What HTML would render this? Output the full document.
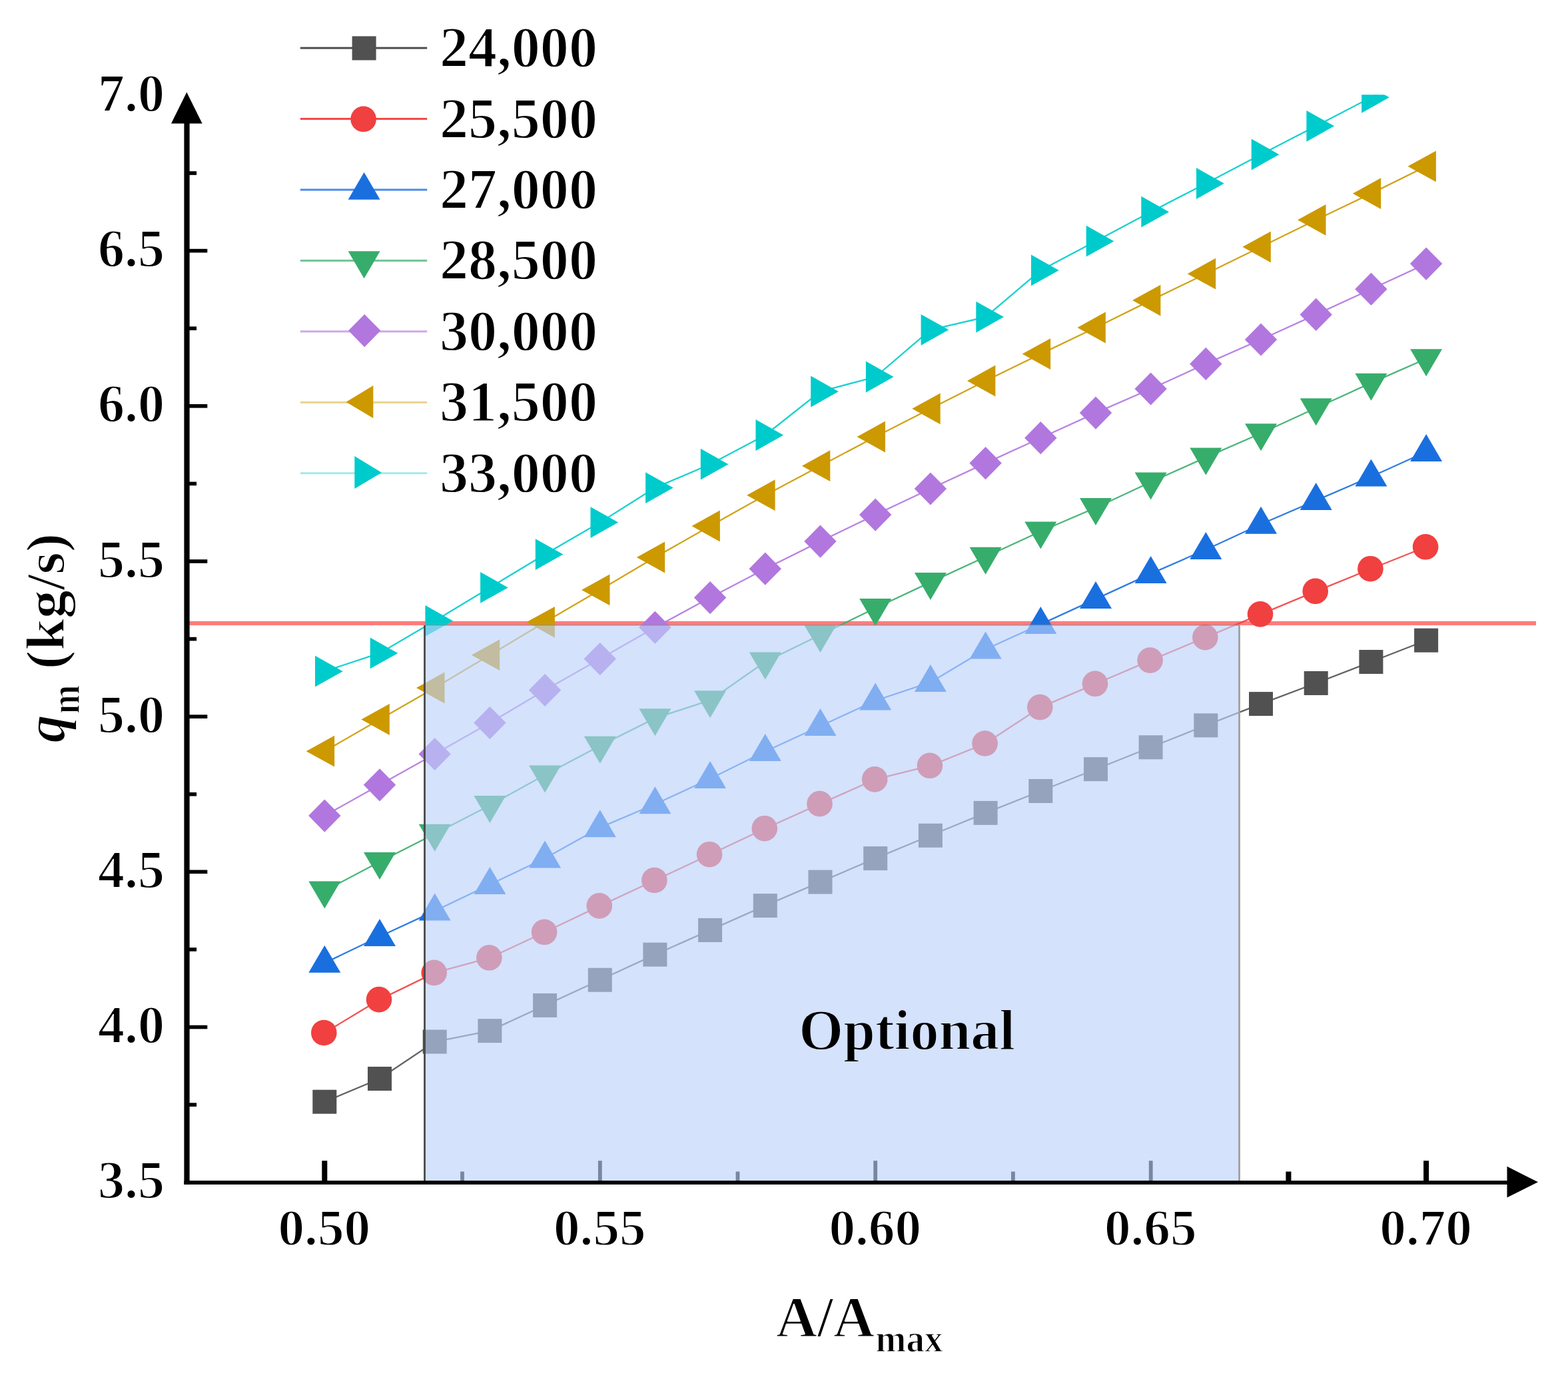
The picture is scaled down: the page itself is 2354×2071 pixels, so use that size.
<!DOCTYPE html>
<html lang="en"><head><meta charset="utf-8"><title>q_m versus A/A_max</title>
<style>html,body{margin:0;padding:0;background:#fff}body{width:2354px;height:2071px;overflow:hidden}svg{display:block}#chart{width:2354px;height:2071px}text{font-family:"Liberation Serif",serif;font-weight:bold;fill:#000;stroke:#fff;stroke-width:1.8px;stroke-linejoin:round}</style>
</head><body><div id="chart">
<svg width="2354" height="2071" viewBox="0 0 2354 2071">
<rect width="2354" height="2071" fill="#fff"/>
<defs><clipPath id="plot"><rect x="276" y="142.3" width="2070" height="1640"/></clipPath></defs>
<g fill="#000">
<rect x="483.3" y="1743.2" width="8.0" height="32"/>
<rect x="897.9" y="1743.2" width="5.8" height="32"/>
<rect x="1311.3" y="1743.2" width="5.8" height="32"/>
<rect x="1724.8" y="1743.2" width="5.8" height="32"/>
<rect x="2137.1" y="1743.2" width="8.0" height="32"/>
<rect x="691.1" y="1759.5" width="5.8" height="16"/>
<rect x="1104.6" y="1759.5" width="5.8" height="16"/>
<rect x="1518.0" y="1759.5" width="5.8" height="16"/>
<rect x="1930.4" y="1759.5" width="8.0" height="16"/>
</g>
<rect x="284" y="932.9" width="2022" height="6.2" fill="#FF7C7E"/>
<g clip-path="url(#plot)">
<polyline points="487.3,1654.7 570.0,1620.0 652.7,1564.5 735.4,1548.1 818.1,1509.9 900.8,1471.7 983.4,1433.6 1066.1,1396.9 1148.8,1360.1 1231.5,1324.6 1314.2,1289.1 1396.9,1254.8 1479.6,1220.9 1562.3,1188.0 1645.0,1155.2 1727.6,1122.3 1810.3,1089.4 1893.0,1057.1 1975.7,1026.0 2058.4,994.0 2141.1,961.7" fill="none" stroke="#515151" stroke-width="2.3" stroke-opacity="0.9"/>
<rect x="469.3" y="1636.7" width="36.0" height="36.0" fill="#515151"/>
<rect x="552.0" y="1602.0" width="36.0" height="36.0" fill="#515151"/>
<rect x="634.7" y="1546.5" width="36.0" height="36.0" fill="#515151"/>
<rect x="717.4" y="1530.1" width="36.0" height="36.0" fill="#515151"/>
<rect x="800.1" y="1491.9" width="36.0" height="36.0" fill="#515151"/>
<rect x="882.8" y="1453.7" width="36.0" height="36.0" fill="#515151"/>
<rect x="965.4" y="1415.6" width="36.0" height="36.0" fill="#515151"/>
<rect x="1048.1" y="1378.9" width="36.0" height="36.0" fill="#515151"/>
<rect x="1130.8" y="1342.1" width="36.0" height="36.0" fill="#515151"/>
<rect x="1213.5" y="1306.6" width="36.0" height="36.0" fill="#515151"/>
<rect x="1296.2" y="1271.1" width="36.0" height="36.0" fill="#515151"/>
<rect x="1378.9" y="1236.8" width="36.0" height="36.0" fill="#515151"/>
<rect x="1461.6" y="1202.9" width="36.0" height="36.0" fill="#515151"/>
<rect x="1544.3" y="1170.0" width="36.0" height="36.0" fill="#515151"/>
<rect x="1627.0" y="1137.2" width="36.0" height="36.0" fill="#515151"/>
<rect x="1709.6" y="1104.3" width="36.0" height="36.0" fill="#515151"/>
<rect x="1792.3" y="1071.4" width="36.0" height="36.0" fill="#515151"/>
<rect x="1875.0" y="1039.1" width="36.0" height="36.0" fill="#515151"/>
<rect x="1957.7" y="1008.0" width="36.0" height="36.0" fill="#515151"/>
<rect x="2040.4" y="976.0" width="36.0" height="36.0" fill="#515151"/>
<rect x="2123.1" y="943.7" width="36.0" height="36.0" fill="#515151"/>
<polyline points="487.3,1551.0 570.0,1501.1 652.7,1460.9 735.4,1438.3 818.1,1399.8 900.8,1360.4 983.4,1322.0 1066.1,1283.2 1148.8,1244.2 1231.5,1207.1 1314.2,1170.4 1396.9,1149.8 1479.6,1116.5 1562.3,1062.1 1645.0,1026.9 1727.6,991.6 1810.3,957.1 1893.0,922.4 1975.7,887.9 2058.4,854.2 2141.1,821.3" fill="none" stroke="#F14040" stroke-width="2.3" stroke-opacity="0.9"/>
<circle cx="486.3" cy="1551.0" r="19.3" fill="#F14040"/>
<circle cx="569.0" cy="1501.1" r="19.3" fill="#F14040"/>
<circle cx="651.7" cy="1460.9" r="19.3" fill="#F14040"/>
<circle cx="734.4" cy="1438.3" r="19.3" fill="#F14040"/>
<circle cx="817.1" cy="1399.8" r="19.3" fill="#F14040"/>
<circle cx="899.8" cy="1360.4" r="19.3" fill="#F14040"/>
<circle cx="982.4" cy="1322.0" r="19.3" fill="#F14040"/>
<circle cx="1065.1" cy="1283.2" r="19.3" fill="#F14040"/>
<circle cx="1147.8" cy="1244.2" r="19.3" fill="#F14040"/>
<circle cx="1230.5" cy="1207.1" r="19.3" fill="#F14040"/>
<circle cx="1313.2" cy="1170.4" r="19.3" fill="#F14040"/>
<circle cx="1395.9" cy="1149.8" r="19.3" fill="#F14040"/>
<circle cx="1478.6" cy="1116.5" r="19.3" fill="#F14040"/>
<circle cx="1561.3" cy="1062.1" r="19.3" fill="#F14040"/>
<circle cx="1644.0" cy="1026.9" r="19.3" fill="#F14040"/>
<circle cx="1726.6" cy="991.6" r="19.3" fill="#F14040"/>
<circle cx="1809.3" cy="957.1" r="19.3" fill="#F14040"/>
<circle cx="1892.0" cy="922.4" r="19.3" fill="#F14040"/>
<circle cx="1974.7" cy="887.9" r="19.3" fill="#F14040"/>
<circle cx="2057.4" cy="854.2" r="19.3" fill="#F14040"/>
<circle cx="2140.1" cy="821.3" r="19.3" fill="#F14040"/>
<polyline points="487.3,1446.3 570.0,1406.5 652.7,1368.1 735.4,1328.5 818.1,1289.0 900.8,1242.9 983.4,1207.8 1066.1,1169.5 1148.8,1128.5 1231.5,1090.5 1314.2,1052.2 1396.9,1024.7 1479.6,975.2 1562.3,937.6 1645.0,899.6 1727.6,861.6 1810.3,825.5 1893.0,787.3 1975.7,751.6 2058.4,716.0 2141.1,678.5" fill="none" stroke="#1A6FDF" stroke-width="2.3" stroke-opacity="0.9"/>
<polygon points="487.3,1419.7 463.3,1460.7 511.3,1460.7" fill="#1A6FDF"/>
<polygon points="570.0,1379.9 546.0,1420.9 594.0,1420.9" fill="#1A6FDF"/>
<polygon points="652.7,1341.5 628.7,1382.5 676.7,1382.5" fill="#1A6FDF"/>
<polygon points="735.4,1301.9 711.4,1342.9 759.4,1342.9" fill="#1A6FDF"/>
<polygon points="818.1,1262.4 794.1,1303.4 842.1,1303.4" fill="#1A6FDF"/>
<polygon points="900.8,1216.3 876.8,1257.3 924.8,1257.3" fill="#1A6FDF"/>
<polygon points="983.4,1181.2 959.4,1222.2 1007.4,1222.2" fill="#1A6FDF"/>
<polygon points="1066.1,1142.9 1042.1,1183.9 1090.1,1183.9" fill="#1A6FDF"/>
<polygon points="1148.8,1101.9 1124.8,1142.9 1172.8,1142.9" fill="#1A6FDF"/>
<polygon points="1231.5,1063.9 1207.5,1104.9 1255.5,1104.9" fill="#1A6FDF"/>
<polygon points="1314.2,1025.6 1290.2,1066.6 1338.2,1066.6" fill="#1A6FDF"/>
<polygon points="1396.9,998.1 1372.9,1039.1 1420.9,1039.1" fill="#1A6FDF"/>
<polygon points="1479.6,948.6 1455.6,989.6 1503.6,989.6" fill="#1A6FDF"/>
<polygon points="1562.3,911.0 1538.3,952.0 1586.3,952.0" fill="#1A6FDF"/>
<polygon points="1645.0,873.0 1621.0,914.0 1669.0,914.0" fill="#1A6FDF"/>
<polygon points="1727.6,835.0 1703.6,876.0 1751.6,876.0" fill="#1A6FDF"/>
<polygon points="1810.3,798.9 1786.3,839.9 1834.3,839.9" fill="#1A6FDF"/>
<polygon points="1893.0,760.7 1869.0,801.7 1917.0,801.7" fill="#1A6FDF"/>
<polygon points="1975.7,725.0 1951.7,766.0 1999.7,766.0" fill="#1A6FDF"/>
<polygon points="2058.4,689.4 2034.4,730.4 2082.4,730.4" fill="#1A6FDF"/>
<polygon points="2141.1,651.9 2117.1,692.9 2165.1,692.9" fill="#1A6FDF"/>
<polyline points="487.3,1337.9 570.0,1294.3 652.7,1252.2 735.4,1209.4 818.1,1163.8 900.8,1120.1 983.4,1078.6 1066.1,1051.6 1148.8,994.0 1231.5,953.5 1314.2,913.3 1396.9,874.4 1479.6,836.2 1562.3,798.0 1645.0,762.5 1727.6,724.0 1810.3,686.9 1893.0,650.7 1975.7,612.7 2058.4,575.1 2141.1,538.7" fill="none" stroke="#37AD6B" stroke-width="2.3" stroke-opacity="0.9"/>
<polygon points="487.3,1364.5 463.3,1323.5 511.3,1323.5" fill="#37AD6B"/>
<polygon points="570.0,1320.9 546.0,1279.9 594.0,1279.9" fill="#37AD6B"/>
<polygon points="652.7,1278.8 628.7,1237.8 676.7,1237.8" fill="#37AD6B"/>
<polygon points="735.4,1236.0 711.4,1195.0 759.4,1195.0" fill="#37AD6B"/>
<polygon points="818.1,1190.4 794.1,1149.4 842.1,1149.4" fill="#37AD6B"/>
<polygon points="900.8,1146.7 876.8,1105.7 924.8,1105.7" fill="#37AD6B"/>
<polygon points="983.4,1105.2 959.4,1064.2 1007.4,1064.2" fill="#37AD6B"/>
<polygon points="1066.1,1078.2 1042.1,1037.2 1090.1,1037.2" fill="#37AD6B"/>
<polygon points="1148.8,1020.6 1124.8,979.6 1172.8,979.6" fill="#37AD6B"/>
<polygon points="1231.5,980.1 1207.5,939.1 1255.5,939.1" fill="#37AD6B"/>
<polygon points="1314.2,939.9 1290.2,898.9 1338.2,898.9" fill="#37AD6B"/>
<polygon points="1396.9,901.0 1372.9,860.0 1420.9,860.0" fill="#37AD6B"/>
<polygon points="1479.6,862.8 1455.6,821.8 1503.6,821.8" fill="#37AD6B"/>
<polygon points="1562.3,824.6 1538.3,783.6 1586.3,783.6" fill="#37AD6B"/>
<polygon points="1645.0,789.1 1621.0,748.1 1669.0,748.1" fill="#37AD6B"/>
<polygon points="1727.6,750.6 1703.6,709.6 1751.6,709.6" fill="#37AD6B"/>
<polygon points="1810.3,713.5 1786.3,672.5 1834.3,672.5" fill="#37AD6B"/>
<polygon points="1893.0,677.3 1869.0,636.3 1917.0,636.3" fill="#37AD6B"/>
<polygon points="1975.7,639.3 1951.7,598.3 1999.7,598.3" fill="#37AD6B"/>
<polygon points="2058.4,601.7 2034.4,560.7 2082.4,560.7" fill="#37AD6B"/>
<polygon points="2141.1,565.3 2117.1,524.3 2165.1,524.3" fill="#37AD6B"/>
<polyline points="487.3,1225.1 570.0,1178.8 652.7,1132.5 735.4,1085.6 818.1,1036.5 900.8,989.6 983.4,942.3 1066.1,897.6 1148.8,854.2 1231.5,813.1 1314.2,773.1 1396.9,734.0 1479.6,695.6 1562.3,657.7 1645.0,620.1 1727.6,584.0 1810.3,546.4 1893.0,510.0 1975.7,472.4 2058.4,434.2 2141.1,396.1" fill="none" stroke="#B177DE" stroke-width="2.3" stroke-opacity="0.9"/>
<polygon points="487.3,1200.5 511.5,1225.1 487.3,1249.7 463.1,1225.1" fill="#B177DE"/>
<polygon points="570.0,1154.2 594.2,1178.8 570.0,1203.4 545.8,1178.8" fill="#B177DE"/>
<polygon points="652.7,1107.9 676.9,1132.5 652.7,1157.1 628.5,1132.5" fill="#B177DE"/>
<polygon points="735.4,1061.0 759.6,1085.6 735.4,1110.2 711.2,1085.6" fill="#B177DE"/>
<polygon points="818.1,1011.9 842.3,1036.5 818.1,1061.1 793.9,1036.5" fill="#B177DE"/>
<polygon points="900.8,965.0 925.0,989.6 900.8,1014.2 876.5,989.6" fill="#B177DE"/>
<polygon points="983.4,917.7 1007.6,942.3 983.4,966.9 959.2,942.3" fill="#B177DE"/>
<polygon points="1066.1,873.0 1090.3,897.6 1066.1,922.2 1041.9,897.6" fill="#B177DE"/>
<polygon points="1148.8,829.6 1173.0,854.2 1148.8,878.8 1124.6,854.2" fill="#B177DE"/>
<polygon points="1231.5,788.5 1255.7,813.1 1231.5,837.7 1207.3,813.1" fill="#B177DE"/>
<polygon points="1314.2,748.5 1338.4,773.1 1314.2,797.7 1290.0,773.1" fill="#B177DE"/>
<polygon points="1396.9,709.4 1421.1,734.0 1396.9,758.6 1372.7,734.0" fill="#B177DE"/>
<polygon points="1479.6,671.0 1503.8,695.6 1479.6,720.2 1455.4,695.6" fill="#B177DE"/>
<polygon points="1562.3,633.1 1586.5,657.7 1562.3,682.3 1538.1,657.7" fill="#B177DE"/>
<polygon points="1645.0,595.5 1669.2,620.1 1645.0,644.7 1620.8,620.1" fill="#B177DE"/>
<polygon points="1727.6,559.4 1751.8,584.0 1727.6,608.6 1703.4,584.0" fill="#B177DE"/>
<polygon points="1810.3,521.8 1834.5,546.4 1810.3,571.0 1786.1,546.4" fill="#B177DE"/>
<polygon points="1893.0,485.4 1917.2,510.0 1893.0,534.6 1868.8,510.0" fill="#B177DE"/>
<polygon points="1975.7,447.8 1999.9,472.4 1975.7,497.0 1951.5,472.4" fill="#B177DE"/>
<polygon points="2058.4,409.6 2082.6,434.2 2058.4,458.8 2034.2,434.2" fill="#B177DE"/>
<polygon points="2141.1,371.5 2165.3,396.1 2141.1,420.7 2116.9,396.1" fill="#B177DE"/>
<polyline points="487.3,1128.2 570.0,1080.5 652.7,1033.0 735.4,983.7 818.1,934.3 900.8,885.9 983.4,837.0 1066.1,790.0 1148.8,743.7 1231.5,699.7 1314.2,656.0 1396.9,613.8 1479.6,572.0 1562.3,531.6 1645.0,492.0 1727.6,451.1 1810.3,411.2 1893.0,370.8 1975.7,330.3 2058.4,290.6 2141.1,249.8" fill="none" stroke="#CC9900" stroke-width="2.3" stroke-opacity="0.9"/>
<polygon points="459.7,1128.2 502.1,1104.8 502.1,1151.6" fill="#CC9900"/>
<polygon points="542.4,1080.5 584.8,1057.1 584.8,1103.9" fill="#CC9900"/>
<polygon points="625.1,1033.0 667.5,1009.6 667.5,1056.4" fill="#CC9900"/>
<polygon points="707.8,983.7 750.2,960.3 750.2,1007.1" fill="#CC9900"/>
<polygon points="790.5,934.3 832.9,910.9 832.9,957.7" fill="#CC9900"/>
<polygon points="873.1,885.9 915.5,862.5 915.5,909.3" fill="#CC9900"/>
<polygon points="955.8,837.0 998.2,813.6 998.2,860.4" fill="#CC9900"/>
<polygon points="1038.5,790.0 1080.9,766.6 1080.9,813.4" fill="#CC9900"/>
<polygon points="1121.2,743.7 1163.6,720.3 1163.6,767.1" fill="#CC9900"/>
<polygon points="1203.9,699.7 1246.3,676.3 1246.3,723.1" fill="#CC9900"/>
<polygon points="1286.6,656.0 1329.0,632.6 1329.0,679.4" fill="#CC9900"/>
<polygon points="1369.3,613.8 1411.7,590.4 1411.7,637.2" fill="#CC9900"/>
<polygon points="1452.0,572.0 1494.4,548.6 1494.4,595.4" fill="#CC9900"/>
<polygon points="1534.7,531.6 1577.1,508.2 1577.1,555.0" fill="#CC9900"/>
<polygon points="1617.4,492.0 1659.8,468.6 1659.8,515.4" fill="#CC9900"/>
<polygon points="1700.0,451.1 1742.4,427.7 1742.4,474.5" fill="#CC9900"/>
<polygon points="1782.7,411.2 1825.1,387.8 1825.1,434.6" fill="#CC9900"/>
<polygon points="1865.4,370.8 1907.8,347.4 1907.8,394.2" fill="#CC9900"/>
<polygon points="1948.1,330.3 1990.5,306.9 1990.5,353.7" fill="#CC9900"/>
<polygon points="2030.8,290.6 2073.2,267.2 2073.2,314.0" fill="#CC9900"/>
<polygon points="2113.5,249.8 2155.9,226.4 2155.9,273.2" fill="#CC9900"/>
<polyline points="487.3,1008.2 570.0,980.9 652.7,932.4 735.4,882.4 818.1,832.6 900.8,784.6 983.4,732.6 1066.1,697.2 1148.8,653.5 1231.5,588.0 1314.2,566.0 1396.9,495.3 1479.6,476.1 1562.3,405.9 1645.0,362.2 1727.6,318.2 1810.3,275.5 1893.0,232.0 1975.7,189.3 2058.4,146.3 2141.1,101.0" fill="none" stroke="#00CBCC" stroke-width="2.3" stroke-opacity="0.9"/>
<polygon points="514.7,1008.2 473.0,984.8 473.0,1031.6" fill="#00CBCC"/>
<polygon points="597.4,980.9 555.7,957.5 555.7,1004.3" fill="#00CBCC"/>
<polygon points="680.1,932.4 638.4,909.0 638.4,955.8" fill="#00CBCC"/>
<polygon points="762.8,882.4 721.1,859.0 721.1,905.8" fill="#00CBCC"/>
<polygon points="845.5,832.6 803.8,809.2 803.8,856.0" fill="#00CBCC"/>
<polygon points="928.1,784.6 886.5,761.2 886.5,808.0" fill="#00CBCC"/>
<polygon points="1010.8,732.6 969.1,709.2 969.1,756.0" fill="#00CBCC"/>
<polygon points="1093.5,697.2 1051.8,673.8 1051.8,720.6" fill="#00CBCC"/>
<polygon points="1176.2,653.5 1134.5,630.1 1134.5,676.9" fill="#00CBCC"/>
<polygon points="1258.9,588.0 1217.2,564.6 1217.2,611.4" fill="#00CBCC"/>
<polygon points="1341.6,566.0 1299.9,542.6 1299.9,589.4" fill="#00CBCC"/>
<polygon points="1424.3,495.3 1382.6,471.9 1382.6,518.7" fill="#00CBCC"/>
<polygon points="1507.0,476.1 1465.3,452.7 1465.3,499.5" fill="#00CBCC"/>
<polygon points="1589.7,405.9 1548.0,382.5 1548.0,429.3" fill="#00CBCC"/>
<polygon points="1672.4,362.2 1630.7,338.8 1630.7,385.6" fill="#00CBCC"/>
<polygon points="1755.0,318.2 1713.3,294.8 1713.3,341.6" fill="#00CBCC"/>
<polygon points="1837.7,275.5 1796.0,252.1 1796.0,298.9" fill="#00CBCC"/>
<polygon points="1920.4,232.0 1878.7,208.6 1878.7,255.4" fill="#00CBCC"/>
<polygon points="2003.1,189.3 1961.4,165.9 1961.4,212.7" fill="#00CBCC"/>
<polygon points="2085.8,146.3 2044.1,122.9 2044.1,169.7" fill="#00CBCC"/>
<polygon points="2168.5,101.0 2126.8,77.6 2126.8,124.4" fill="#00CBCC"/>
</g>
<rect x="637.5" y="939.0" width="1223.0" height="834.3" fill="#BBD1FA" fill-opacity="0.64"/>
<rect x="636.1" y="939.0" width="2.8" height="834.3" fill="#4a4a4a"/>
<rect x="1859.1" y="939.0" width="2.8" height="834.3" fill="#a0a0a0"/>
<rect x="637.5" y="938.0" width="1223.0" height="1.6" fill="#8c8c8c" fill-opacity="0.7"/>
<g fill="#000">
<rect x="276.4" y="160" width="8.2" height="1618.8"/>
<rect x="276.4" y="1773.1" width="1993.6" height="5.8"/>
<polygon points="280.3,138.5 257,185.6 303.6,185.6"/>
<polygon points="2309,1775.2 2262.5,1751.8 2262.5,1798.4"/>
<rect x="280" y="1539.7" width="31.3" height="5.6"/>
<rect x="280" y="1306.5" width="31.3" height="5.6"/>
<rect x="280" y="1073.4" width="31.3" height="5.6"/>
<rect x="280" y="840.2" width="31.3" height="5.6"/>
<rect x="280" y="607.0" width="31.3" height="5.6"/>
<rect x="280" y="373.8" width="31.3" height="5.6"/>
<rect x="280" y="1656.3" width="15.1" height="5.6"/>
<rect x="280" y="1423.1" width="15.1" height="5.6"/>
<rect x="280" y="1190.0" width="15.1" height="5.6"/>
<rect x="280" y="956.8" width="15.1" height="5.6"/>
<rect x="280" y="723.6" width="15.1" height="5.6"/>
<rect x="280" y="490.4" width="15.1" height="5.6"/>
<rect x="280" y="257.2" width="15.1" height="5.6"/>
</g>
<g font-size="80" text-anchor="end">
<text x="247.0" y="1799.3">3.5</text>
<text x="247.0" y="1566.1">4.0</text>
<text x="247.0" y="1332.9">4.5</text>
<text x="247.0" y="1099.8">5.0</text>
<text x="247.0" y="866.6">5.5</text>
<text x="247.0" y="633.4">6.0</text>
<text x="247.0" y="400.2">6.5</text>
<text x="247.0" y="167.0">7.0</text>
</g>
<g font-size="79.2" text-anchor="middle">
<text x="486.8" y="1870.0">0.50</text>
<text x="900.3" y="1870.0">0.55</text>
<text x="1313.7" y="1870.0">0.60</text>
<text x="1727.2" y="1870.0">0.65</text>
<text x="2140.6" y="1870.0">0.70</text>
</g>
<text x="1165" y="2007.4" font-size="86">A/A</text>
<text transform="translate(1314.6,2030.2) scale(0.975,1.06)" font-size="56.5" style="stroke-width:1.3px">max</text>
<text transform="translate(97.2,1115.5) rotate(-90)" font-size="84.5" font-style="italic">q</text>
<text transform="translate(118.6,1072.2) rotate(-90) scale(0.95,1.10)" font-size="55" style="stroke-width:1.3px">m</text>
<text transform="translate(96.2,1005.2) rotate(-90) scale(1.013,0.965)" font-size="84.5">(kg/s)</text>
<text x="1199.2" y="1575.8" font-size="86" style="stroke:#D4E2FC">Optional</text>
<rect x="450.8" y="70.6" width="190.4" height="3" fill="#4e4e4e"/>
<rect x="528.6" y="54.4" width="36.0" height="36.0" fill="#515151"/>
<text x="660.0" y="100.1" font-size="86.2">24,000</text>
<rect x="450.8" y="177.0" width="190.4" height="3" fill="#f44a4a"/>
<circle cx="545.6" cy="178.8" r="19.3" fill="#F14040"/>
<text x="660.0" y="206.5" font-size="86.2">25,500</text>
<rect x="450.8" y="283.5" width="190.4" height="3" fill="#4a8be6"/>
<polygon points="546.6,258.7 522.6,299.7 570.6,299.7" fill="#1A6FDF"/>
<text x="660.0" y="313.0" font-size="86.2">27,000</text>
<rect x="450.8" y="389.9" width="190.4" height="3" fill="#72c596"/>
<polygon points="546.6,418.3 522.6,377.3 570.6,377.3" fill="#37AD6B"/>
<text x="660.0" y="419.4" font-size="86.2">28,500</text>
<rect x="450.8" y="496.3" width="190.4" height="3" fill="#cda8ea"/>
<polygon points="547.2,472.0 571.4,496.6 547.2,521.2 523.0,496.6" fill="#B177DE"/>
<text x="660.0" y="525.8" font-size="86.2">30,000</text>
<rect x="450.8" y="602.8" width="190.4" height="3" fill="#e8d38c"/>
<polygon points="519.6,603.7 560.3,578.9 560.3,627.9" fill="#CC9900"/>
<text x="660.0" y="632.3" font-size="86.2">31,500</text>
<rect x="450.8" y="709.2" width="190.4" height="3" fill="#a5e9ea"/>
<polygon points="573.0,709.7 532.3,685.1 532.3,733.9" fill="#00CBCC"/>
<text x="660.0" y="738.7" font-size="86.2">33,000</text>
</svg>
</div></body></html>
